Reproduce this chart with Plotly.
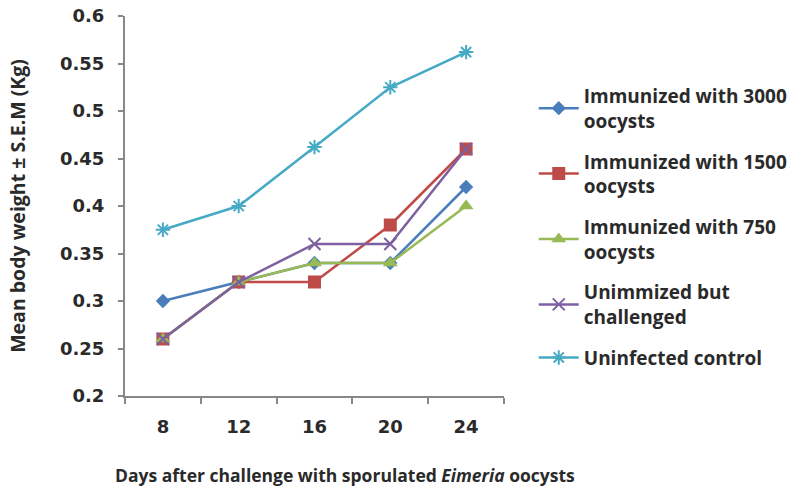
import plotly.graph_objects as go

days = ["8", "12", "16", "20", "24"]
imm_3000 = [0.30, 0.32, 0.34, 0.34, 0.42]
imm_1500 = [0.26, 0.32, 0.32, 0.38, 0.46]
imm_750 = [0.26, 0.32, 0.34, 0.34, 0.40]
unimm = [0.26, 0.32, 0.36, 0.36, 0.46]
control = [0.375, 0.40, 0.462, 0.525, 0.562]
y_ticks = [0.2, 0.25, 0.3, 0.35, 0.4, 0.45, 0.5, 0.55, 0.6]
y_ticktext = ["0.2", "0.25", "0.3", "0.35", "0.4", "0.45", "0.5", "0.55", "0.6"]

FONT = "Open Sans, Lato, sans-serif"
TICKFONT = "DejaVu Sans, sans-serif"
TXT = "#2a2a2a"

series = [
    ("Immunized with 3000<br>oocysts", imm_3000, "#4A7EBB", dict(symbol="diamond", size=11)),
    ("Immunized with 1500<br>oocysts", imm_1500, "#BE4B48", dict(symbol="square", size=13)),
    ("Immunized with 750<br>oocysts", imm_750, "#98B954", dict(symbol="triangle-up", size=13)),
    ("Unimmized but<br>challenged", unimm, "#7D60A0", dict(symbol="x-thin-open", size=12, line=dict(width=2, color="#7D60A0"))),
    ("Uninfected control", control, "#46AAC5", dict(symbol="asterisk-open", size=12, line=dict(width=2, color="#46AAC5"))),
]

fig = go.Figure()
for i, (name, vals, color, mk) in enumerate(series):
    marker = dict(color=color, **mk)
    fig.add_trace(go.Scatter(x=days, y=vals, name=name, mode="lines+markers",
                             legendgroup=f"g{i}",
                             line=dict(color=color, width=2.5), marker=marker))

tickf = dict(family=TICKFONT, size=18, color=TXT, weight="bold")
legf = dict(family=FONT, size=19, color=TXT, weight="bold")

W, H = 805, 492
L, T = 125, 16
PW, PH = 382, 380

fig.update_layout(
    width=W, height=H,
    margin=dict(l=L, r=W - L - PW, t=T, b=H - T - PH),
    plot_bgcolor="white", paper_bgcolor="white",
    font=legf,
    showlegend=True,
    legend=dict(x=(537 - L) / PW, y=(T + PH - 77) / PH, xanchor="left", yanchor="top",
                font=legf, itemwidth=40, tracegroupgap=13),
    xaxis=dict(type="category", range=[-0.5, 4.5], showline=True, linecolor="#888888",
               linewidth=2, ticks="outside", tickson="boundaries", ticklen=6,
               tickcolor="#888888", tickwidth=2, showgrid=False, zeroline=False,
               automargin=False, tickfont=tickf, ticklabelstandoff=13,
               ticklabeloverflow="allow"),
    yaxis=dict(range=[0.2, 0.6], tickvals=y_ticks, ticktext=y_ticktext, showline=True,
               linecolor="#888888", linewidth=2, ticks="outside", ticklen=5,
               tickcolor="#888888", tickwidth=2, showgrid=False, zeroline=False,
               automargin=False, tickfont=tickf, ticklabelstandoff=10,
               ticklabeloverflow="allow",
               title=dict(text="Mean body weight ± S.E.M (Kg)", standoff=29,
                          font=dict(family=FONT, size=19.5, color=TXT, weight="bold"))),
)

fig.add_annotation(text="Days after challenge with sporulated <i>Eimeria</i> oocysts",
                   xref="paper", yref="paper", x=(347 - L) / PW, y=-(475 - T - PH) / PH,
                   xanchor="center", yanchor="middle", showarrow=False,
                   font=dict(family=FONT, size=17.5, color=TXT, weight="bold"))

fig.write_html("out.html", config={"displayModeBar": False},
               post_script="document.body.style.margin='0';")
